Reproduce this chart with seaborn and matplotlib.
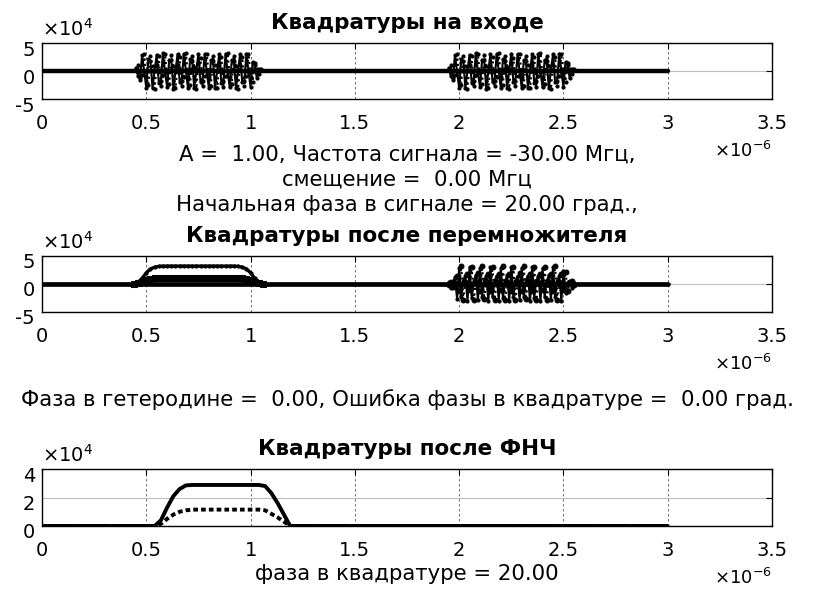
import numpy as np
import pandas as pd
import matplotlib
matplotlib.use("Agg")
import matplotlib.pyplot as plt
import matplotlib.transforms as mtransforms
import seaborn as sns

# time in microseconds, amplitudes in units of 1e4
t_burst = [0.45, 0.46, 0.47, 0.48, 0.49, 0.50, 0.51, 0.52, 0.53, 0.54,
           0.55, 0.56, 0.57, 0.58, 0.59, 0.60, 0.61, 0.62, 0.63, 0.64,
           0.65, 0.66, 0.67, 0.68, 0.69, 0.70, 0.71, 0.72, 0.73, 0.74,
           0.75, 0.76, 0.77, 0.78, 0.79, 0.80, 0.81, 0.82, 0.83, 0.84,
           0.85, 0.86, 0.87, 0.88, 0.89, 0.90, 0.91, 0.92, 0.93, 0.94,
           0.95, 0.96, 0.97, 0.98, 0.99, 1.00, 1.01, 1.02, 1.03, 1.04, 1.05]
burst2_shift = 1.5

# input quadratures
in_i = [0.6, -0.9, -1.2, 2.8, -0.1, -3.0, 2.1, 1.7, -3.1, 0.2,
        2.9, -2.1, -1.7, 3.2, -0.2, -2.9, 2.0, 1.9, -3.2, 0.1,
        3.0, -1.9, -1.8, 3.1, 0.0, -3.1, 2.1, 1.8, -3.0, 0.2,
        3.1, -2.0, -1.7, 3.0, -0.1, -3.0, 1.9, 1.8, -3.1, 0.1,
        3.0, -2.1, -1.8, 3.1, -0.2, -2.9, 2.0, 1.7, -3.1, 0.1,
        3.0, -2.0, -1.8, 3.1, -0.1, -2.8, 1.6, 1.1, -1.3, 0.3, 0.4]
in_q = [0.3, 1.0, -1.6, -0.8, 3.0, -1.1, -2.5, 2.7, 0.9, -3.2,
        1.0, 2.6, -2.7, -0.8, 3.1, -1.2, -2.4, 2.8, 0.9, -3.1,
        1.1, 2.5, -2.6, -1.0, 3.2, -1.0, -2.5, 2.7, 0.8, -3.2,
        1.2, 2.4, -2.7, -0.9, 3.1, -1.1, -2.6, 2.6, 1.0, -3.1,
        1.1, 2.5, -2.8, -0.9, 3.2, -1.1, -2.4, 2.7, 0.9, -3.2,
        1.0, 2.5, -2.6, -0.9, 3.1, -1.0, -1.9, 1.4, 0.4, -0.6, 0.2]

# after multiplier: first pulse -> DC plateau
t_plateau = [0.44, 0.46, 0.48, 0.50, 0.52, 0.54, 0.56, 0.58, 0.60, 0.62,
             0.64, 0.66, 0.68, 0.70, 0.72, 0.74, 0.76, 0.78, 0.80, 0.82,
             0.84, 0.86, 0.88, 0.90, 0.92, 0.94, 0.96, 0.98, 1.00, 1.02,
             1.04, 1.06]
mix_i_dc = [0.0, 0.3, 1.0, 2.0, 2.7, 3.0, 3.15, 3.2, 3.2, 3.2,
            3.2, 3.2, 3.2, 3.2, 3.2, 3.2, 3.2, 3.2, 3.2, 3.2,
            3.2, 3.2, 3.2, 3.2, 3.2, 3.15, 3.0, 2.7, 2.0, 1.0,
            0.3, 0.0]
mix_q_dc = [0.0, 0.1, 0.35, 0.7, 0.95, 1.05, 1.1, 1.15, 1.15, 1.15,
            1.15, 1.15, 1.15, 1.15, 1.15, 1.15, 1.15, 1.15, 1.15, 1.15,
            1.15, 1.15, 1.15, 1.15, 1.15, 1.1, 1.05, 0.95, 0.7, 0.35,
            0.1, 0.0]
# after multiplier: second pulse -> double frequency
mix_i_ac = [0.4, -0.8, 0.3, 1.2, -2.6, 2.9, -2.4, 0.6, 1.5, -3.0,
            3.0, -2.5, 0.5, 1.6, -2.9, 2.8, -2.3, 0.7, 1.4, -3.1,
            3.0, -2.4, 0.6, 1.5, -3.0, 2.9, -2.5, 0.5, 1.6, -3.0,
            3.1, -2.3, 0.6, 1.4, -2.9, 2.9, -2.4, 0.7, 1.5, -3.1,
            3.0, -2.5, 0.6, 1.5, -3.0, 2.8, -2.4, 0.5, 1.6, -2.9,
            3.0, -2.3, 0.6, 1.4, -3.0, 2.4, -1.6, 0.3, 0.6, -0.7, 0.2]
mix_q_ac = [-0.2, 0.3, -0.6, 0.2, 1.4, -1.2, 3.2, -2.8, 0.4, 1.8,
            -1.1, 3.1, -2.9, 0.3, 1.9, -1.3, 3.2, -2.7, 0.5, 1.8,
            -1.2, 3.0, -2.8, 0.4, 1.7, -1.1, 3.2, -2.9, 0.3, 1.8,
            -1.2, 3.1, -2.8, 0.4, 1.9, -1.3, 3.2, -2.7, 0.5, 1.8,
            -1.2, 3.0, -2.8, 0.3, 1.8, -1.1, 3.1, -2.9, 0.4, 1.7,
            -1.2, 3.2, -2.8, 0.4, 1.8, -1.0, 2.2, -1.3, 0.2, 0.6, -0.1]

# after low-pass filter
t_lpf = [0.0, 0.54, 0.57, 0.60, 0.63, 0.66, 0.69, 0.72, 1.04, 1.07,
         1.10, 1.13, 1.16, 1.19, 3.0]
lpf_i = [0.0, 0.0, 0.4, 1.3, 2.1, 2.6, 2.85, 2.88, 2.88, 2.8,
         2.3, 1.6, 0.8, 0.0, 0.0]
lpf_q = [0.0, 0.0, 0.15, 0.5, 0.8, 1.0, 1.1, 1.15, 1.15, 1.1,
         0.85, 0.6, 0.3, 0.0, 0.0]

t_base = [0.0, 3.0]
base = [0.0, 0.0]

x_ticks = [0, 0.5, 1, 1.5, 2, 2.5, 3, 3.5]
x_ticklabels = ["0", "0.5", "1", "1.5", "2", "2.5", "3", "3.5"]

titles = ["Квадратуры на входе",
          "Квадратуры после перемножителя",
          "Квадратуры после ФНЧ"]
xlabels = ["A =  1.00, Частота сигнала = -30.00 Мгц,\nсмещение =  0.00 Мгц\n"
           "Начальная фаза в сигнале = 20.00 град.,",
           "Фаза в гетеродине =  0.00, Ошибка фазы в квадратуре =  0.00 град.",
           "фаза в квадратуре = 20.00"]

sns.set_style("white")
plt.rcParams["font.family"] = ["DejaVu Sans"]
plt.rcParams["font.size"] = 14
plt.rcParams["text.color"] = "black"
plt.rcParams["axes.labelcolor"] = "black"

fig = plt.figure(figsize=(8.13, 5.9), dpi=100)
W, H = 813, 590
boxes = [(42, 43, 772, 99), (42, 256, 772, 312), (42, 469, 772, 526)]
axes = [fig.add_axes([l / W, 1 - b / H, (r - l) / W, (b - t) / H]) for l, t, r, b in boxes]


def draw(ax, t, y, style="-", marker=".", ms=4.5, lw=1.5):
    sns.lineplot(x=t, y=y, ax=ax, color="black", linestyle=style, marker=marker,
                 markersize=ms, markeredgecolor="black", linewidth=lw,
                 estimator=None, sort=False)


t_b2 = [v + burst2_shift for v in t_burst]

# panel 1
ax = axes[0]
draw(ax, t_base, base, marker=None, lw=3.2)
for tt in (t_burst, t_b2):
    draw(ax, tt, in_i)
    draw(ax, tt, in_q, style=":")

# panel 2
ax = axes[1]
draw(ax, t_base, base, marker=None, lw=3.4)
draw(ax, t_plateau, mix_i_dc, lw=2.4)
draw(ax, t_plateau, mix_q_dc, style=":", marker="s", ms=3.8, lw=1.8)
draw(ax, t_b2, mix_i_ac)
draw(ax, t_b2, mix_q_ac, style=":", marker="o", ms=3.5)

# panel 3
ax = axes[2]
draw(ax, t_lpf, lpf_i, marker=None, lw=2.8)
draw(ax, t_lpf, lpf_q, style=(0, (1.2, 0.8)), marker=None, lw=2.8)

ylims = [(-5, 5), (-5, 5), (0, 4)]
yticks = [[-5, 0, 5], [-5, 0, 5], [0, 2, 4]]
label_pads = [8, 31, 3]

for ax, yl, yt, title, xl, lp in zip(axes, ylims, yticks, titles, xlabels, label_pads):
    ax.set_xlim(0, 3.5)
    ax.set_ylim(*yl)
    ax.set_xticks(x_ticks)
    ax.set_xticklabels(x_ticklabels)
    ax.set_yticks(yt)
    ax.set_yticklabels([str(v) for v in yt])
    ax.tick_params(direction="in", length=4, width=0.8, top=True, right=True,
                   labelsize=14, colors="black")
    ax.tick_params(axis="x", pad=11)
    ax.tick_params(axis="y", pad=5)
    for lab in ax.get_yticklabels():
        lab.set_transform(lab.get_transform() +
                          mtransforms.ScaledTranslation(0, -5 / 100, fig.dpi_scale_trans))
    ax.xaxis.grid(True, color="0.35", linestyle=(0, (3, 3)), linewidth=0.6)
    ax.yaxis.grid(True, color="0.75", linestyle="-", linewidth=0.8)
    ax.set_axisbelow(True)
    for sp in ax.spines.values():
        sp.set_visible(True)
        sp.set_color("black")
        sp.set_linewidth(1.0)
    ax.set_title(title, fontsize=15.5, fontweight="bold", pad=10, color="black")
    ax.set_xlabel(xl, fontsize=15.3, labelpad=lp, linespacing=1.32)
    ax.set_ylabel("")
    ax.text(0.0, 1.25, r"$\times10^{4}$", transform=ax.transAxes,
            ha="left", va="center", fontsize=14)
    ax.text(1.0, -0.92, r"$\times10^{-6}$", transform=ax.transAxes,
            ha="right", va="center", fontsize=13)

fig.savefig("out.png", dpi=100, facecolor="white")
